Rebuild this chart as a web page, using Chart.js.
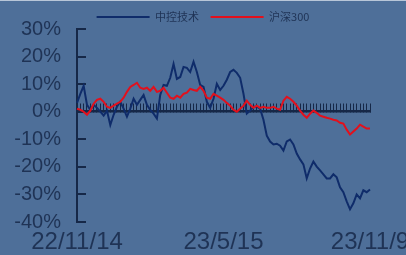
<!DOCTYPE html>
<html>
<head>
<meta charset="utf-8">
<script src="https://cdn.jsdelivr.net/npm/chart.js"></script>
<style>
  html, body { margin: 0; padding: 0; background: #4e6f99; }
  #wrap { position: relative; width: 406px; height: 255px; }
  #wrap:before { content: ''; position: absolute; left: 0; top: 0; width: 406px; height: 1px; background: #b8c6d8; }
</style>
</head>
<body>
<div id="wrap"><canvas id="myChart" width="406" height="255"></canvas></div>
<script>
// dates (sampled), ~every 4 days
var dates = ['22/11/14','22/11/18','22/11/22','22/11/26','22/12/1','22/12/5','22/12/9','22/12/13','22/12/17','22/12/21',
  '22/12/26','22/12/30','23/1/3','23/1/7','23/1/11','23/1/15','23/1/20','23/1/24','23/1/28','23/2/1',
  '23/2/5','23/2/9','23/2/14','23/2/18','23/2/22','23/2/26','23/3/2','23/3/6','23/3/11','23/3/15',
  '23/3/19','23/3/23','23/3/27','23/3/31','23/4/5','23/4/9','23/4/13','23/4/17','23/4/21','23/4/25',
  '23/4/29','23/5/3','23/5/7','23/5/11','23/5/15','23/5/19','23/5/23','23/5/27','23/5/31','23/6/4',
  '23/6/8','23/6/12','23/6/16','23/6/20','23/6/24','23/6/28','23/7/2','23/7/6','23/7/10','23/7/14',
  '23/7/18','23/7/22','23/7/26','23/7/30','23/8/3','23/8/7','23/8/11','23/8/15','23/8/19','23/8/23',
  '23/8/27','23/8/31','23/9/4','23/9/8','23/9/12','23/9/16','23/9/20','23/9/24','23/9/28','23/10/2',
  '23/10/6','23/10/10','23/10/14','23/10/18','23/10/22','23/10/26','23/10/30','23/11/4','23/11/9'];

var tickLabels = ['22/11/14', '23/5/15', '23/11/9'];

// 中控技术, %
var zkjs = [3.2, 6.5, 9.4, 2.5, 0.7, 2.5, 1.4, 0, -1.4, 0.4,
  -4.8, -1.1, 1.8, 3.6, 1.1, -1.8, 1.1, 4.7, 2.5, 4.3,
  6.1, 2.5, 0.7, -0.7, -2.5, 6.1, 9.7, 9.4, 12.3, 17.3,
  11.9, 12.6, 16.2, 15.9, 14.4, 18.1, 14.4, 9.7, 9.0, 3.6,
  1.4, 4.7, 10.1, 7.9, 9.4, 11.6, 14.4, 15.2, 14.1, 12.3,
  6.5, -0.7, 0.4, 1.8, 1.8, 1.1, -2.9, -8.7, -10.8, -11.9,
  -11.6, -12.3, -14.1, -10.8, -10.1, -11.9, -15.2, -17.3, -19.1, -24.2,
  -20.6, -18.1, -19.9, -21.3, -22.7, -24.2, -24.2, -22.7, -23.8, -27.4,
  -29.2, -32.5, -35.4, -33.2, -30.0, -31.4, -28.5, -29.2, -28.2];

// 沪深300, %
var hs300 = [1.1, 0.7, 0, -1.1, 0.4, 2.9, 4.3, 4.7, 3.6, 1.8,
  1.4, 2.2, 2.9, 3.6, 5.1, 7.2, 9.0, 9.7, 10.5, 8.7,
  8.3, 8.7, 7.6, 9.0, 7.2, 7.6, 8.7, 6.9, 5.1, 4.7,
  5.8, 5.1, 6.5, 6.9, 8.3, 7.9, 7.6, 9.0, 7.6, 5.1,
  4.7, 6.5, 5.8, 5.1, 4.3, 3.2, 2.2, 0.7, 0, 1.1,
  2.2, 4.0, 2.5, 1.4, 2.2, 1.4, 1.8, 1.4, 1.4, 1.8,
  1.1, 0.7, 4.0, 5.4, 4.7, 3.6, 2.2, 0.4, -1.1, -2.2,
  -0.7, 0.4, -0.4, -1.4, -1.8, -2.2, -2.5, -2.9, -3.2, -4.0,
  -4.3, -6.5, -8.3, -7.2, -6.1, -4.7, -5.4, -6.1, -6.1];

var navy = '#162848';
var textColor = '#1f3355';

Chart.defaults.font.family = "'Liberation Sans', 'Noto Sans CJK SC', sans-serif";
Chart.defaults.color = textColor;

var ctx = document.getElementById('myChart').getContext('2d');
var chart = new Chart(ctx, {
  type: 'line',
  data: {
    labels: dates,
    datasets: [{
      label: '中控技术',
      data: zkjs,
      borderColor: '#0f2c6a',
      backgroundColor: '#0f2c6a',
      borderWidth: 2,
      pointRadius: 0,
      pointStyle: 'line',
      order: 1
    }, {
      label: '沪深300',
      data: hs300,
      borderColor: '#e3101c',
      backgroundColor: '#e3101c',
      borderWidth: 2,
      pointRadius: 0,
      pointStyle: 'line',
      order: 0
    }]
  },
  options: {
    responsive: false,
    animation: false,
    devicePixelRatio: 1,
    layout: { padding: 0 },
    plugins: {
      tooltip: { enabled: false },
      legend: {
        maxHeight: 29,
        labels: {
          usePointStyle: true,
          pointStyleWidth: 53,
          padding: 11.5,
          color: textColor,
          font: { size: 11, family: "'Noto Sans CJK SC', 'Liberation Sans', sans-serif" },
          sort: function (a, b) { return a.datasetIndex - b.datasetIndex; }
        }
      }
    },
    scales: {
      x: {
        type: 'category',
        position: { y: 0 },
        offset: false,
        grid: { drawOnChartArea: false, tickLength: -9, color: navy, lineWidth: 1 },
        border: { color: navy, width: 2.5 },
        ticks: { display: false }
      },
      x2: {
        type: 'category',
        position: 'bottom',
        offset: false,
        grid: { display: false, drawTicks: false },
        border: { display: false },
        ticks: {
          autoSkip: false,
          maxRotation: 0,
          padding: 6,
          color: textColor,
          font: { size: 24 },
          callback: function (v) {
            var l = this.getLabelForValue(v);
            return tickLabels.indexOf(l) >= 0 ? l : '';
          }
        },
        afterFit: function (scale) {
          scale.height = 33;
          scale.paddingLeft = 0;
          scale.paddingRight = 36;
        }
      },
      y: {
        min: -40,
        max: 30,
        grid: { drawOnChartArea: false, tickLength: -9, color: navy, lineWidth: 2 },
        border: { color: navy, width: 2 },
        ticks: {
          stepSize: 10,
          autoSkip: false,
          padding: 25,
          color: textColor,
          font: { size: 20 },
          callback: function (v) { return v + '%'; }
        },
        afterFit: function (scale) {
          scale.width = 77;
          scale.paddingTop = 0;
          scale.paddingBottom = 0;
        }
      }
    }
  }
});
</script>
</body>
</html>
